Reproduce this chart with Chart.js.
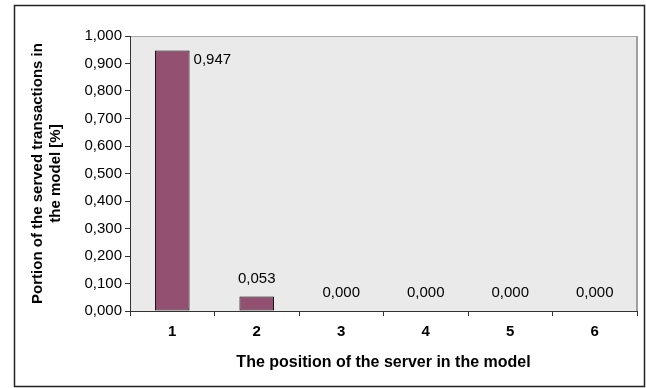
<!DOCTYPE html>
<html>
<head>
<meta charset="utf-8">
<script src="https://cdn.jsdelivr.net/npm/chart.js@4/dist/chart.umd.min.js"></script>
<style>
html,body{margin:0;padding:0;background:#fff;}
#wrap{width:646px;height:388px;}
</style>
</head>
<body>
<div id="wrap"><canvas id="c" width="646" height="388"></canvas></div>
<script>
const categories = ['1', '2', '3', '4', '5', '6'];
const servedPortion = [0.947, 0.053, 0.000, 0.000, 0.000, 0.000];
const yAxisTitle = ['Portion of the served transactions in', 'the model [%]'];
const xAxisTitle = 'The position of the server in the model';

const FONT = "'Liberation Sans', Arial, sans-serif";
const fmt = v => Number(v).toFixed(3).replace('.', ',');

const framePlugin = {
  id: 'frame',
  beforeDraw(chart) {
    const {ctx, chartArea: a} = chart;
    ctx.save();
    ctx.fillStyle = '#ffffff';
    ctx.fillRect(0, 0, chart.width, chart.height);
    ctx.fillStyle = '#eaeaea';
    ctx.fillRect(a.left, a.top, a.right - a.left, a.bottom - a.top);
    ctx.strokeStyle = '#a8a8a8';
    ctx.lineWidth = 1;
    ctx.beginPath();
    ctx.moveTo(a.left, a.top + 0.5);
    ctx.lineTo(a.right, a.top + 0.5);
    ctx.stroke();
    ctx.strokeStyle = '#a0a0a0';
    ctx.lineWidth = 2;
    ctx.beginPath();
    ctx.moveTo(a.right, a.top);
    ctx.lineTo(a.right, a.bottom);
    ctx.stroke();
    ctx.strokeStyle = '#222';
    ctx.lineWidth = 1.5;
    ctx.strokeRect(14.5, 5.5, 630, 381);
    ctx.restore();
  }
};

const labelPlugin = {
  id: 'valueLabels',
  afterDatasetsDraw(chart) {
    const {ctx, chartArea: a} = chart;
    const meta = chart.getDatasetMeta(0);
    const data = chart.data.datasets[0].data;
    ctx.save();
    ctx.font = '15px ' + FONT;
    ctx.fillStyle = '#000';
    ctx.textBaseline = 'middle';
    meta.data.forEach((bar, i) => {
      const txt = fmt(data[i]);
      let y = bar.y - 18;
      if (y - 8 < a.top) {
        ctx.textAlign = 'left';
        ctx.fillText(txt, bar.x + bar.width / 2 + 4, bar.y + 9);
      } else {
        ctx.textAlign = 'center';
        ctx.fillText(txt, bar.x, y);
      }
    });
    ctx.restore();
  }
};

new Chart(document.getElementById('c'), {
  type: 'bar',
  data: {
    labels: categories,
    datasets: [{
      data: servedPortion,
      backgroundColor: '#935070',
      borderColor: '#000000',
      borderWidth: 1,
      borderSkipped: false,
      categoryPercentage: 1.0,
      barPercentage: 0.41
    }]
  },
  options: {
    responsive: false,
    animation: false,
    devicePixelRatio: 1,
    layout: { padding: { left: 0, top: 36, right: 9, bottom: 0 } },
    plugins: { legend: { display: false }, tooltip: { enabled: false } },
    scales: {
      x: {
        afterFit: s => { s.height = 77; },
        grid: { drawOnChartArea: false, drawTicks: true, tickLength: 5, color: '#333', offset: true },
        border: { color: '#333', width: 1 },
        ticks: { color: '#000', padding: 7, font: { family: FONT, size: 15, weight: 'bold' } },
        title: {
          display: true, text: xAxisTitle, color: '#000',
          font: { family: FONT, size: 16, weight: 'bold' },
          padding: { top: 0, bottom: 16 }
        }
      },
      y: {
        min: 0, max: 1,
        afterFit: s => { s.width = 130; },
        grid: { drawOnChartArea: false, drawTicks: true, tickLength: 5, color: '#333' },
        border: { color: '#333', width: 1 },
        ticks: {
          stepSize: 0.1, color: '#000', padding: 3,
          font: { family: FONT, size: 15 },
          callback: v => fmt(v)
        },
        title: {
          display: true, text: yAxisTitle, color: '#000',
          font: { family: FONT, size: 15, weight: 'bold' },
          padding: { top: 29, bottom: 0 }
        }
      }
    }
  },
  plugins: [framePlugin, labelPlugin]
});
</script>
</body>
</html>
